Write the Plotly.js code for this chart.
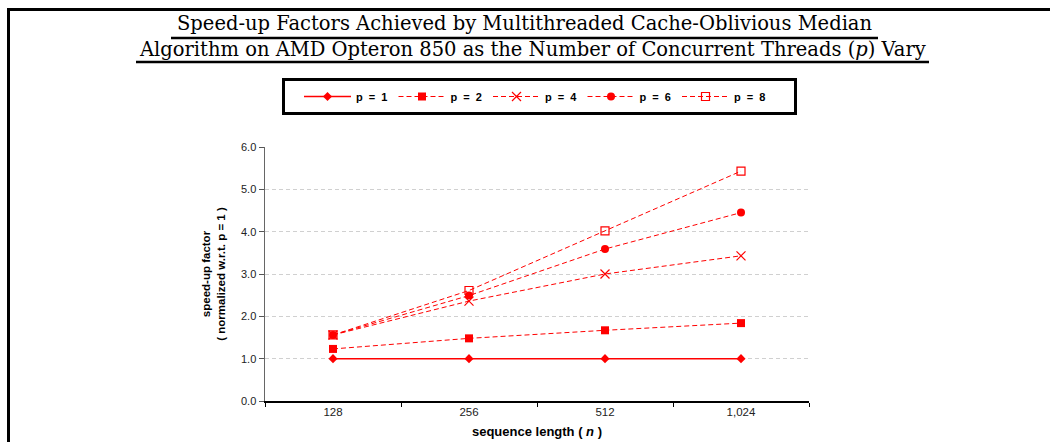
<!DOCTYPE html>
<html><head><meta charset="utf-8">
<script src="https://cdn.plot.ly/plotly-3.0.1.min.js"></script>
<style>html,body{margin:0;padding:0;background:#fff}#chart{width:1050px;height:442px}</style>
</head><body><div id="chart"></div>
<script>
const categories = ["128", "256", "512", "1,024"];
const seriesNames = ["p\u00a0\u00a0=\u00a0\u00a01", "p\u00a0\u00a0=\u00a0\u00a02", "p\u00a0\u00a0=\u00a0\u00a04", "p\u00a0\u00a0=\u00a0\u00a06", "p\u00a0\u00a0=\u00a0\u00a08"];
const p1 = [1.00, 1.00, 1.00, 1.00];
const p2 = [1.23, 1.48, 1.67, 1.84];
const p4 = [1.56, 2.36, 3.00, 3.43];
const p6 = [1.56, 2.49, 3.59, 4.45];
const p8 = [1.56, 2.61, 4.02, 5.43];
const yTicks = [0, 1, 2, 3, 4, 5, 6];
const yTickText = ["0.0", "1.0", "2.0", "3.0", "4.0", "5.0", "6.0"];

const red = "#ff0000";
const styles = [
  {dash: "solid", symbol: "diamond", size: 7, width: 1.5},
  {dash: "5px,3px", symbol: "square", size: 8, width: 1},
  {dash: "5px,3px", symbol: "x-thin-open", size: 9, width: 1},
  {dash: "5px,3px", symbol: "circle", size: 8, width: 1},
  {dash: "5px,3px", symbol: "square-open", size: 8, width: 1}
];
const allSeries = [p1, p2, p4, p6, p8];
const traces = allSeries.map((ys, i) => ({
  type: "scatter", mode: "lines+markers", name: seriesNames[i],
  x: categories, y: ys,
  line: {color: red, width: styles[i].width, dash: styles[i].dash},
  marker: {color: red, symbol: styles[i].symbol, size: styles[i].size,
           line: {color: red, width: styles[i].symbol.indexOf("open") >= 0 ? 1.2 : 0}}
}));

// pixel helpers (plot area: x 265..809, y 147..401)
const L = 265, R = 809, T = 147, B = 401;
const px = x => (x - L) / (R - L);
const py = y => (B - y) / (B - T);

const layout = {
  width: 1050, height: 442,
  margin: {l: L, r: 1050 - R, t: T, b: 442 - B},
  paper_bgcolor: "#fff", plot_bgcolor: "#fff",
  font: {family: "Liberation Sans, Arial, sans-serif", color: "#111"},
  showlegend: true,
  legend: {
    orientation: "h", x: px(299), xanchor: "left", y: py(82), yanchor: "top",
    borderwidth: 0, bgcolor: "rgba(0,0,0,0)",
    font: {size: 11, family: "Liberation Sans, Arial, sans-serif", weight: "bold", color: "#000"},
    itemwidth: 47, entrywidth: 32.5, traceorder: "normal"
  },
  xaxis: {
    type: "category", range: [-0.5, 3.5], tickson: "boundaries",
    ticks: "outside", ticklen: 4, tickcolor: "#000", tickwidth: 1,
    showline: true, linecolor: "#000", linewidth: 1.5,
    showgrid: false, zeroline: false,
    tickfont: {size: 11.5, color: "#222"},
    title: {text: "<b>sequence length ( <i>n</i> )</b>", font: {size: 13, color: "#000"}, standoff: 9}
  },
  yaxis: {
    range: [0, 6], tickvals: yTicks, ticktext: yTickText,
    ticks: "outside", ticklen: 5, tickcolor: "#555", tickwidth: 1,
    showline: true, linecolor: "#666", linewidth: 1.5,
    showgrid: true, gridcolor: "#d0d0d0", griddash: "4px,3px", gridwidth: 1,
    zeroline: false,
    tickfont: {size: 11, color: "#222"},
    title: {text: "<b>speed-up factor</b><br><b>( normalized w.r.t. p = 1 )</b>", font: {size: 11.5, color: "#000"}, standoff: 13}
  },
  annotations: [
    {xref: "paper", yref: "paper", x: px(524.5), y: py(23), xanchor: "center", yanchor: "middle", showarrow: false,
     text: "Speed-up Factors Achieved by Multithreaded Cache-Oblivious Median",
     font: {family: "DejaVu Serif, serif", size: 19.5, color: "#000"}},
    {xref: "paper", yref: "paper", x: px(532.5), y: py(49), xanchor: "center", yanchor: "middle", showarrow: false,
     text: "Algorithm on AMD Opteron 850 as the Number of Concurrent Threads (<i>p</i>) Vary",
     font: {family: "DejaVu Serif, serif", size: 19.5, color: "#000"}}
  ],
  shapes: [
    {type: "line", xref: "paper", yref: "paper", x0: px(171), x1: px(878), y0: py(38), y1: py(38), line: {color: "#000", width: 2.5}},
    {type: "line", xref: "paper", yref: "paper", x0: px(136), x1: px(929), y0: py(62), y1: py(62), line: {color: "#000", width: 2.5}},
    {type: "line", xref: "paper", yref: "paper", x0: px(7), x1: px(1052), y0: py(9.5), y1: py(9.5), line: {color: "#000", width: 3}},
    {type: "line", xref: "paper", yref: "paper", x0: px(8.5), x1: px(8.5), y0: py(8), y1: py(444), line: {color: "#000", width: 3}},
    {type: "rect", xref: "paper", yref: "paper", x0: px(283.5), x1: px(795.5), y0: py(79.5), y1: py(113.5), line: {color: "#000", width: 3}, fillcolor: "rgba(0,0,0,0)"}
  ]
};
Plotly.newPlot("chart", traces, layout, {displayModeBar: false, staticPlot: true});
</script></body></html>
